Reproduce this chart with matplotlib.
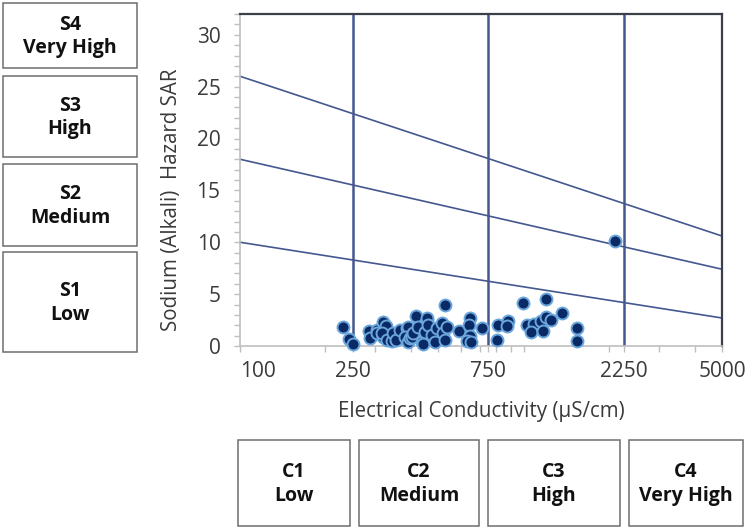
import matplotlib
matplotlib.use("Agg")
import matplotlib.pyplot as plt
from matplotlib.patches import Rectangle
from matplotlib.ticker import FixedLocator, NullFormatter, LogLocator, MultipleLocator

# ---------------- data ----------------
ec = [231, 242, 251,
      286, 287, 303, 303, 320, 320, 327, 316, 329, 342, 347, 356, 366,
      387, 390, 382, 392, 397, 403, 408, 417, 425, 437, 440, 449, 455,
      458, 461, 474, 487, 493, 514, 521, 528, 535, 530,
      591, 647, 641, 647, 629, 652, 714, 802, 813, 877, 870,
      996, 1031, 1089, 1060, 1150, 1171, 1203, 1203, 1253, 1366,
      1535, 1535, 2095]
sar = [1.8, 0.67, 0.16,
       1.44, 0.8, 1.54, 1.3, 2.33, 0.9, 1.95, 1.22, 0.58, 0.48, 1.22, 0.58, 1.5,
       1.7, 1.82, 0.9, 0.35, 0.74, 0.9, 1.22, 2.9, 1.85, 0.36, 0.22, 1.37, 2.5,
       2.66, 2.0, 1.06, 0.4, 1.7, 2.18, 1.22, 0.58, 1.85, 4.0,
       1.44, 2.72, 2.0, 0.99, 0.48, 0.35, 1.76, 0.58, 2.0, 2.4, 1.95,
       4.19, 2.0, 2.08, 1.31, 2.4, 1.44, 4.5, 2.81, 2.5, 3.14,
       1.76, 0.48, 10.08]

boundary_x = [100, 5000]
s1_s2 = [10, 2.7]
s2_s3 = [18, 7.4]
s3_s4 = [26, 10.6]
class_limits = [250, 750, 2250]
xticks = [100, 250, 750, 2250, 5000]
s_labels = ["S4\nVery High", "S3\nHigh", "S2\nMedium", "S1\nLow"]
c_labels = ["C1\nLow", "C2\nMedium", "C3\nHigh", "C4\nVery High"]

# ---------------- style ----------------
plt.rcParams['font.family'] = ['Open Sans', 'DejaVu Sans']
W, H = 754, 528
fig = plt.figure(figsize=(W / 100, H / 100), dpi=100)
fig.patch.set_facecolor('white')

L, R, T, B = 240, 722, 14, 346
ax = fig.add_axes([L / W, 1 - B / H, (R - L) / W, (B - T) / H])
ax.set_xscale('log')
ax.set_xlim(100, 5000)
ax.set_ylim(0, 32)

line_col = '#44588f'
for b in (s1_s2, s2_s3, s3_s4):
    ax.plot(boundary_x, b, color=line_col, lw=1.2, zorder=2)
for c in class_limits:
    ax.axvline(c, color=line_col, lw=1.8, zorder=2)

ax.plot(ec, sar, 'o', ms=8.6, mfc='#0a2a66', mec='#6aa6dc', mew=1.4,
        zorder=3, clip_on=False)

ax.xaxis.set_major_locator(FixedLocator(xticks))
ax.set_xticklabels([str(v) for v in xticks])
ax.xaxis.set_minor_locator(LogLocator(base=10, subs=(1.0, 2, 3, 4, 5, 6, 7, 8, 9)))
ax.xaxis.set_minor_formatter(NullFormatter())
ax.yaxis.set_major_locator(MultipleLocator(5))
ax.yaxis.set_minor_locator(MultipleLocator(1))

ax.tick_params(axis='both', which='both', direction='out', color='#bfbfbf',
               length=4, width=1, labelcolor='#3a3a3a', labelsize=15)
ax.tick_params(axis='x', pad=7)
ax.tick_params(axis='y', pad=10)
ax.xaxis.get_major_ticks()[0].label1.set_horizontalalignment('left')

for s in ('left', 'bottom'):
    ax.spines[s].set_color('#bfbfbf')
    ax.spines[s].set_linewidth(1.2)
for s in ('top', 'right'):
    ax.spines[s].set_color('#3a3f4a')
    ax.spines[s].set_linewidth(1.6)

ax.set_xlabel("Electrical Conductivity (µS/cm)", fontsize=14.8, color='#3a3a3a')
ax.xaxis.set_label_coords(0.5, -0.165)
ax.set_ylabel("Sodium (Alkali)  Hazard SAR", fontsize=14.8, color='#3a3a3a')
ax.yaxis.set_label_coords(-0.12, 0.44)

# ---------------- class boxes ----------------
ov = fig.add_axes([0, 0, 1, 1], zorder=-1)
ov.set_xlim(0, W)
ov.set_ylim(H, 0)
ov.axis('off')

left_boxes = [(3, 3, 134, 65), (3, 76, 134, 81), (3, 164, 134, 82), (3, 252, 134, 100)]
bottom_boxes = [(238, 440, 112, 86), (359, 440, 120, 86), (488, 440, 132, 86), (629, 440, 114, 86)]

for (x, y, w, h), lab in list(zip(left_boxes, s_labels)) + list(zip(bottom_boxes, c_labels)):
    ov.add_patch(Rectangle((x, y), w, h, facecolor='white', edgecolor='#6e6e6e', lw=1.1))
    ov.text(x + w / 2, y + h / 2 + 1, lab, ha='center', va='center', fontsize=14,
            fontweight='bold', color='#111111', linespacing=1.25)

fig.savefig('out.png', dpi=100)
